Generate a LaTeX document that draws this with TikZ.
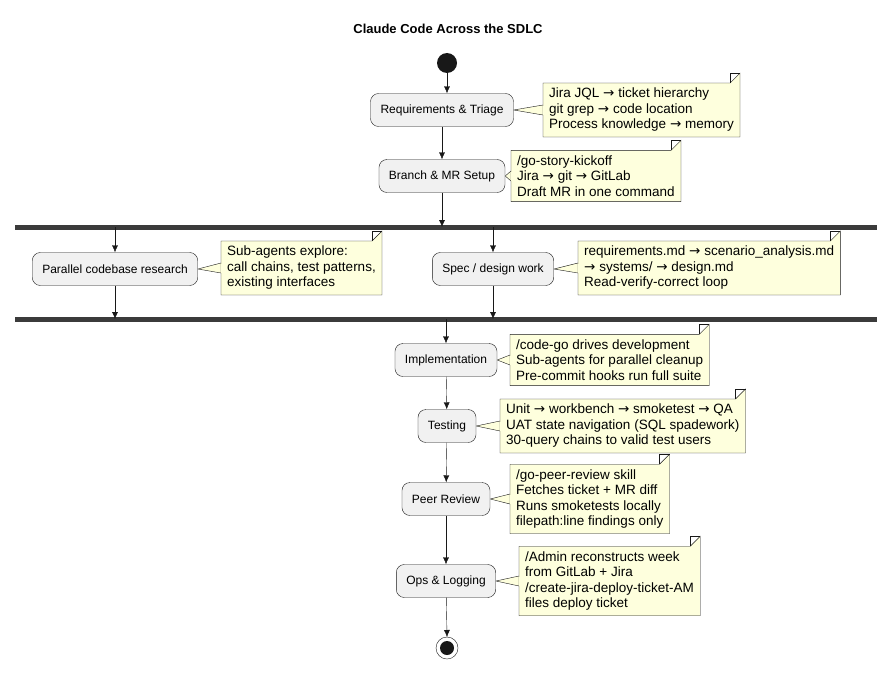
\documentclass[tikz,border=0pt]{standalone}
\usepackage{fontspec}
\setmainfont{Liberation Sans}
\newfontfamily\arfont{DejaVu Sans}
\usetikzlibrary{arrows.meta,positioning,calc,backgrounds}
\newcommand{\ar}{{\arfont\char"2192}}
\definecolor{actfill}{HTML}{F1F1F1}
\definecolor{notefill}{HTML}{FEFFDD}
\definecolor{lin}{HTML}{181818}
\tikzset{
  act/.style={draw=lin,fill=actfill,rounded corners=8pt,minimum height=33pt,inner xsep=10pt,font=\fontsize{12}{14}\selectfont},
  note/.style={align=left,inner xsep=6pt,inner ysep=5pt,font=\fontsize{13.5}{15.5}\selectfont,anchor=west},
  flow/.style={-{Latex[length=7pt,width=6pt]},lin,thin},
  bar/.style={line width=5pt,draw=lin!85},
}
\newcommand{\foldnote}[2]{%
  \begin{scope}[on background layer]
    \fill[notefill] (#2.east) -- ($(#1.west)+(0,5)$) -- ($(#1.west)+(0,-5)$) -- cycle;
    \draw[lin,thin] ($(#1.west)+(0,5)$) -- (#2.east) -- ($(#1.west)+(0,-5)$);
    \draw[lin,thin,fill=notefill] ($(#1.west)+(0,5)$) -- (#1.north west) -- ($(#1.north east)+(-10,0)$)
      -- ($(#1.north east)+(0,-10)$) -- (#1.south east) -- (#1.south west) -- ($(#1.west)+(0,-5)$);
    \draw[lin,thin] ($(#1.north east)+(-10,0)$) |- ($(#1.north east)+(0,-10)$);
    \fill[notefill] ($(#1.west)+(-0.5,4.5)$) rectangle ($(#1.west)+(0.6,-4.5)$);
  \end{scope}}
\begin{document}
\begin{tikzpicture}[x=1pt,y=-1pt]
  \useasboundingbox (0,0) rectangle (896,677);
  \node[font=\bfseries\fontsize{13}{15}\selectfont] (title) at (448,29) {Claude Code Across the SDLC};

  % main flow, top part
  \fill[lin] (447,63) circle (10) coordinate (start);
  \node[act] (req) at (442,110) {Requirements \& Triage};
  \node[act] (branch) at (442,176) {Branch \& MR Setup};
  \node[note] (nreq) at (543,110) {Jira JQL \ar{} ticket hierarchy\\git grep \ar{} code location\\Process knowledge \ar{} memory};
  \node[note] (nbranch) at (511,176) {/go-story-kickoff\\Jira \ar{} git \ar{} GitLab\\Draft MR in one command};
  \foldnote{nreq}{req}
  \foldnote{nbranch}{branch}

  % fork
  \draw[bar] (15,227) coordinate (forkl) -- (877,227) coordinate (forkr);
  \draw[bar] (15,319) coordinate (joinl) -- (877,319) coordinate (joinr);
  \node[act] (research) at (115,269) {Parallel codebase research};
  \node[act] (spec) at (493,269) {Spec / design work};
  \node[note] (nresearch) at (221,268) {Sub-agents explore:\\call chains, test patterns,\\existing interfaces};
  \node[note] (nspec) at (578,268) {requirements.md \ar{} scenario\_analysis.md\\\ar{} systems/ \ar{} design.md\\Read-verify-correct loop};
  \foldnote{nresearch}{research}
  \foldnote{nspec}{spec}

  % bottom part
  \node[act] (impl) at (446,360) {Implementation};
  \node[act] (test) at (447,426) {Testing};
  \node[act] (review) at (446,499) {Peer Review};
  \node[act] (ops) at (446,581) {Ops \& Logging};
  \node[note] (nimpl) at (510,360) {/code-go drives development\\Sub-agents for parallel cleanup\\Pre-commit hooks run full suite};
  \node[note] (ntest) at (500,426) {Unit \ar{} workbench \ar{} smoketest \ar{} QA\\UAT state navigation (SQL spadework)\\30-query chains to valid test users};
  \node[note] (nreview) at (510,499) {/go-peer-review skill\\Fetches ticket + MR diff\\Runs smoketests locally\\filepath:line findings only};
  \node[note] (nops) at (519,581) {/Admin reconstructs week\\from GitLab + Jira\\/create-jira-deploy-ticket-AM\\files deploy ticket};
  \foldnote{nimpl}{impl}
  \foldnote{ntest}{test}
  \foldnote{nreview}{review}
  \foldnote{nops}{ops}
  \draw[lin,thin] (447,648) circle (11);
  \fill[lin] (447,648) circle (7) coordinate (stop);

  % connectors
  \draw[flow] ($(start)+(0,10)$) -- (req.north -| start);
  \draw[flow] (req) -- (branch);
  \draw[flow] (branch) -- (branch.south |- forkl);
  \draw[flow] (research.north |- forkl) -- (research);
  \draw[flow] (spec.north |- forkl) -- (spec);
  \draw[flow] (research) -- (research.south |- joinl);
  \draw[flow] (spec) -- (spec.south |- joinl);
  \draw[flow] (impl.north |- joinl) -- (impl);
  \draw[flow] (impl) -- (test);
  \draw[flow] (test) -- (review);
  \draw[flow] (review) -- (ops);
  \draw[flow] (ops) -- ($(stop)+(0,-11)$);
\end{tikzpicture}
\end{document}
